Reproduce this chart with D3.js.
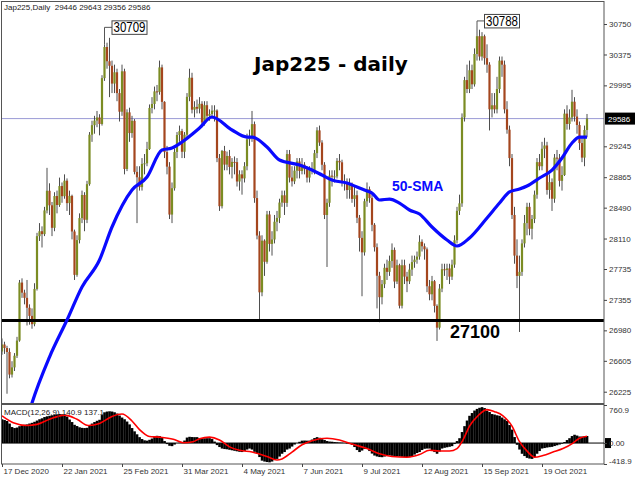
<!DOCTYPE html>
<html><head><meta charset="utf-8">
<script src="https://cdn.jsdelivr.net/npm/d3@7"></script>
<style>
body{margin:0;background:#fff}
svg{display:block}
</style>
</head><body>
<svg id="c" width="640" height="480" style="font-family:'Liberation Sans',Arial,sans-serif"></svg>
<script>
// ---------- DATA ----------
const tickDates = ["17 Dec 2020","22 Jan 2021","25 Feb 2021","31 Mar 2021","4 May 2021","7 Jun 2021","9 Jul 2021","12 Aug 2021","15 Sep 2021","19 Oct 2021"];
const tickIdx = [0,24,48,72,96,120,144,168,192,216];
const priceTicks = [30750,30375,29995,29245,28865,28490,28110,27735,27355,26980,26605,26225];

const opens = [
26720,26806,26763,26714,26436,26524,26668,26854,27568,27444,
27380,27258,27158,27056,27490,28139,28200,28164,28456,28698,
28519,28242,28633,28523,28756,28631,28822,28546,28635,28197,
27663,28091,28362,28646,28341,28779,29388,29505,29562,29600,
29520,30084,30467,30292,30236,30017,30156,29900,29671,30168,
28966,29663,29408,29559,28930,28864,28743,29028,29036,29211,
29717,29766,29921,29914,30216,29792,29174,28995,28405,28729,
29176,29384,29432,29178,29388,29854,30089,29696,29730,29708,
29768,29538,29751,29620,29642,29683,29685,29100,28508,29188,
29020,29126,28991,29053,29050,28812,28900,28850,29000,29331,
29357,29518,28608,28147,27448,28084,27824,28406,28044,28098,
28317,28364,28553,28642,28549,29149,28860,28814,28946,29058,
28941,29019,28963,28860,28958,28948,29161,29441,29291,29018,
28400,28550,28884,28874,28875,29066,29048,28812,28791,28707,
28783,28598,28643,28366,28118,27940,28569,28718,28608,28279,
28003,27652,27388,27548,27750,27700,27833,27970,27581,27782,
27283,27781,27641,27584,27728,27820,27850,27888,28070,28015,
27977,27523,27424,27585,27281,27013,27494,27732,27724,27742,
27641,27789,28089,28451,28543,29600,30060,29950,30181,30008,
30381,30600,30350,30600,30330,30250,29700,29750,29700,29950,
30300,30250,29700,29450,29100,28400,27900,27650,27700,28050,
28300,28500,28230,28350,28650,29050,29000,29215,29255,28708,
28804,28600,29106,29098,28820,28892,29647,29520,29600,29794,
29611,29507,29285,29106,29446];
const highs = [
26880,26840,26790,26760,26600,26700,26900,27600,27620,27480,
27600,27300,27250,27560,28180,28300,28260,28500,28980,28790,
28560,28680,28700,28860,28800,28900,28850,28700,28650,28220,
28150,28420,28700,28680,28820,29420,29560,29620,29680,29640,
30120,30500,30520,30580,30300,30250,30200,29950,30250,30200,
29700,29720,29620,29580,29000,29000,29100,29150,29300,29760,
29850,29980,30000,30300,30250,29800,29250,29050,28800,29220,
29420,29500,29460,29420,29900,30200,30150,29800,29820,29850,
29800,29800,29800,29700,29750,29750,29700,29150,29200,29250,
29180,29200,29100,29120,29100,28950,28950,29050,29400,29450,
29680,29550,28700,28200,28150,28100,28450,28450,28200,28400,
28450,28600,28700,28700,29200,29200,29000,29000,29100,29100,
29100,29050,29000,29000,29050,29200,29480,29500,29320,29050,
28600,28950,28950,28950,29100,29150,29080,28900,28850,28850,
28800,28750,28700,28400,28200,28600,28800,28750,28650,28300,
28050,27700,27600,27800,27850,27900,28050,28000,27850,27800,
27850,27850,27700,27800,27900,27900,27950,28150,28100,28050,
28000,27600,27650,27600,27300,27550,27800,27800,27800,27800,
27850,28150,28500,28650,29650,30100,30250,30300,30250,30450,
30725,30680,30650,30620,30500,30280,29900,29900,30100,30350,
30350,30300,29800,29500,29150,28500,28100,27900,28100,28400,
28550,28550,28400,28700,29100,29150,29300,29350,29300,28900,
28850,29150,29200,29150,29000,29700,29750,29700,29940,29850,
29700,29550,29350,29500,29643];
const lows = [
26680,26690,26200,26390,26400,26480,26640,26840,27380,27300,
27040,27050,27000,27030,27470,28080,28000,28140,28420,28400,
28140,28200,28420,28500,28550,28600,28450,28400,28100,27600,
27640,28050,28300,28200,28300,28760,29300,29400,29480,29380,
29500,30050,30200,29850,29900,29900,29800,29550,29620,28900,
28940,29300,29350,28900,28300,28700,28700,28900,29000,29200,
29650,29700,29800,29880,29700,29100,28900,28350,28300,28700,
29100,29300,29100,29100,29350,29800,29650,29600,29650,29650,
29480,29500,29580,29560,29600,29550,29050,28450,28480,28950,
28950,28900,28850,28900,28750,28700,28650,28800,28950,29250,
29300,28550,28100,27100,27400,27650,27800,27950,27900,28050,
28200,28300,28500,28400,28500,28800,28750,28780,28850,28850,
28900,28900,28800,28800,28900,28900,29100,29250,28950,28350,
27760,28500,28750,28800,28850,28950,28750,28700,28600,28600,
28550,28500,28300,27950,27400,27900,28500,28550,28200,27950,
27250,27080,27300,27500,27600,27650,27750,27500,27550,27250,
27250,27550,27450,27550,27650,27750,27800,27850,27950,27850,
27450,27350,27350,27200,26850,26990,27450,27650,27600,27550,
27600,27750,28050,28400,28500,29550,29900,29900,29950,29980,
30300,30300,30300,30250,30150,29440,29600,29650,29650,29900,
30100,29650,29400,29000,28350,27800,27500,26960,27650,28000,
28150,28150,28100,28300,28600,28950,28950,29100,28650,28600,
28450,28550,28950,28750,28700,28880,29450,29450,29550,29550,
29400,29200,29050,29000,29356];
const closes = [
26806,26763,26714,26436,26524,26668,26854,27568,27444,27380,
27258,27158,27056,27490,28139,28200,28164,28456,28698,28519,
28242,28633,28523,28756,28631,28822,28546,28635,28197,27663,
28091,28362,28646,28341,28779,29388,29505,29562,29600,29520,
30084,30467,30292,30236,30017,30156,29900,29671,30168,28966,
29663,29408,29559,28930,28864,28743,29028,29036,29211,29717,
29766,29921,29914,30216,29792,29174,28995,28405,28729,29176,
29384,29432,29178,29388,29854,30089,29696,29730,29708,29768,
29538,29751,29620,29642,29683,29685,29100,28508,29188,29020,
29126,28991,29053,29050,28812,28900,28850,29000,29331,29357,
29518,28608,28147,27448,28084,27824,28406,28044,28098,28317,
28364,28553,28642,28549,29149,28860,28814,28946,29058,28941,
29019,28963,28860,28958,28948,29161,29441,29291,29018,28400,
28550,28884,28874,28875,29066,29048,28812,28791,28707,28783,
28598,28643,28366,28118,27940,28569,28718,28608,28279,28003,
27652,27388,27548,27750,27700,27833,27970,27581,27782,27283,
27781,27641,27584,27728,27820,27850,27888,28070,28015,27977,
27523,27424,27585,27281,27013,27494,27732,27724,27742,27641,
27789,28089,28451,28543,29600,30060,29950,30181,30008,30381,
30600,30350,30600,30330,30250,29700,29750,29700,29950,30300,
30250,29700,29450,29100,28400,27900,27650,27700,28050,28300,
28500,28230,28350,28650,29050,29000,29215,29255,28708,28804,
28600,29106,29098,28820,28892,29647,29520,29600,29794,29611,
29507,29285,29106,29446,29586];

// 50-SMA (bar index, value)
const smaIdx = [10,12,19,26,32,39,44,52,58,64,68,72,79,84,92,98,100,106,111,119,124,128,132,138,142,146,148,151,155,159,163,167,172,178,182,187,194,199,203,207,210,215,220,224,228,231,234];
const smaVal = [25880,26086,26652,27107,27514,27846,28252,28707,28867,29200,29224,29298,29470,29606,29446,29359,29359,29236,29076,29015,28953,28892,28830,28793,28744,28695,28670,28584,28596,28547,28461,28412,28252,28092,28018,28117,28363,28547,28683,28719,28756,28855,28953,29101,29286,29359,29359];

// MACD main (histogram), one per bar
const macdHist = [
476,460,441,390,320,300,310,337,350,365,
373,390,405,425,450,476,495,520,535,545,
555,565,575,580,575,560,530,470,420,365,
340,315,304,300,305,350,390,420,445,465,
560,615,630,635,630,615,590,550,510,476,
430,373,300,234,175,118,80,55,48,65,
90,120,145,140,100,40,-21,-55,-62,-30,
0,5,10,50,110,125,120,118,118,100,
97,95,97,97,80,30,-41,-80,-110,-120,
-125,-135,-145,-155,-165,-175,-180,-160,-130,-110,
-130,-175,-214,-280,-352,-370,-380,-386,-370,-340,
-317,-270,-214,-180,-130,-110,-70,-30,0,25,
48,50,48,48,70,100,118,105,77,60,
40,30,27,20,15,10,7,0,-10,-20,
-35,-80,-140,-180,-150,-120,-110,-160,-210,-250,
-269,-280,-283,-270,-255,-248,-255,-260,-265,-269,
-275,-280,-283,-283,-260,-230,-200,-180,-140,-115,
-110,-110,-140,-180,-214,-170,-110,-95,-85,-75,
-62,-20,40,97,220,338,450,545,600,650,
683,705,718,700,649,620,580,570,555,545,
510,475,441,360,269,120,-35,-130,-214,-260,
-296,-310,-317,-280,-214,-160,-110,-100,-90,-82,
-76,-60,-45,-30,-14,20,60,97,140,166,
150,131,130,135,140.9];
// MACD signal line
const sigIdx = [0,4.5,10,14,19,25,30,34.5,39,44,48,52,55,59,63,68.5,72.5,76.5,79,83,87,91,95,100,106,110,112,116,120,124,130,135,140,146,151,156,162,167,171,175,179,182,184.4,187,190.4,194,197,200.4,204,207,210.4,213,216.4,220.4,224.4,228.4,231,234];
const sigVal = [545,407,352,373,476,559,476,352,393,532,580,441,269,130,118,77,7,27,87,118,62,-76,-145,-180,-269,-338,-317,-180,-35,48,97,62,-21,-110,-214,-269,-283,-230,-145,-159,-159,-110,62,338,545,669,628,545,338,27,-180,-283,-248,-180,-110,0,97,137.1];

const annPrices = [30709,30788];
const annIdx = [41,190];
const supportLevel = 27100;
const lastPrice = 29586;
const macdMax = 760.9, macdMin = -418.9;

// ---------- DRAW ----------
const svg = d3.select("#c");
const N = closes.length;
const PL = 2, PR = 604, PT = 2, PB = 403, MT = 405, MB = 464;
const x = d3.scaleLinear().domain([0, N-1]).range([2, 587]);
const y = d3.scaleLinear().domain([26086, 31021]).range([PB, PT]);
const ym = d3.scaleLinear().domain([macdMin, macdMax]).range([MB, MT]);

const defs = svg.append("defs");
defs.append("clipPath").attr("id","cm").append("rect").attr("x",PL).attr("y",PT).attr("width",PR-PL).attr("height",PB-PT);
defs.append("clipPath").attr("id","cd").append("rect").attr("x",PL).attr("y",MT).attr("width",PR-PL).attr("height",MB-MT);

const main = svg.append("g").attr("clip-path","url(#cm)");

// current price line
main.append("line").attr("x1",PL).attr("x2",PR).attr("y1",y(lastPrice)).attr("y2",y(lastPrice))
  .attr("stroke","#9a9ad6").attr("stroke-width",1);

// candles
const idx = d3.range(N);
main.append("g").selectAll("line").data(idx).join("line")
  .attr("x1",i=>x(i)).attr("x2",i=>x(i))
  .attr("y1",i=>y(highs[i])).attr("y2",i=>y(lows[i]))
  .attr("stroke","#3a3a3a").attr("stroke-width",0.9);
main.append("g").selectAll("rect").data(idx).join("rect")
  .attr("x",i=>x(i)-1.1).attr("width",2.2)
  .attr("y",i=>y(Math.max(opens[i],closes[i])))
  .attr("height",i=>Math.max(1, Math.abs(y(opens[i])-y(closes[i]))))
  .attr("fill",i=>closes[i]>=opens[i] ? "#7b8c23" : "#a4461e");

// support line
main.append("line").attr("x1",0).attr("x2",PR).attr("y1",y(supportLevel)).attr("y2",y(supportLevel))
  .attr("stroke","#000").attr("stroke-width",3);

// SMA
const smaLine = d3.line().x((d,i)=>x(smaIdx[i])).y((d,i)=>y(smaVal[i])).curve(d3.curveMonotoneX);
main.append("path").attr("d", smaLine(smaIdx)).attr("fill","none").attr("stroke","#0a0aff").attr("stroke-width",3.2);

// annotations
annPrices.forEach((p,k)=>{
  const cx = x(annIdx[k]);
  const yy = y(p);
  const g = svg.append("g");
  g.append("path").attr("d",`M${cx+7.5},${yy}H${cx}V${y(highs[annIdx[k]])}`)
    .attr("fill","none").attr("stroke","#555").attr("stroke-width",1);
  g.append("rect").attr("x",cx+7.5).attr("y",yy-6.5).attr("width",35).attr("height",13.5)
    .attr("fill","#fff").attr("stroke","#444").attr("stroke-width",1);
  g.append("text").attr("x",cx+9).attr("y",yy+5)
    .style("font-family",'"Liberation Sans Narrow","Arial Narrow","Liberation Sans",sans-serif')
    .style("font-size","14px").attr("textLength",32).attr("lengthAdjust","spacingAndGlyphs")
    .attr("fill","#000").text(p);
});

// frames
svg.append("rect").attr("x",1.5).attr("y",1.5).attr("width",PR-1.5).attr("height",PB-1).attr("fill","none").attr("stroke","#555");
svg.append("rect").attr("x",1.5).attr("y",MT-0.5).attr("width",PR-1.5).attr("height",MB-MT+0.5).attr("fill","none").attr("stroke","#555");

// price axis
const ax = svg.append("g").attr("transform",`translate(${PR},0)`)
  .call(d3.axisRight(y).tickValues(priceTicks).tickSize(3).tickPadding(2).tickFormat(d3.format("d")));
ax.select(".domain").remove();
ax.selectAll("line").attr("stroke","#444");
ax.selectAll("text").style("font-size","8px").style("font-family","'Liberation Sans',Arial,sans-serif").attr("fill","#333");

// current price label
svg.append("rect").attr("x",PR+1).attr("y",y(lastPrice)-6).attr("width",30).attr("height",12).attr("fill","#000");
svg.append("text").attr("x",PR+4).attr("y",y(lastPrice)+3).style("font-size","8px").attr("fill","#fff").text(lastPrice);

// MACD panel
const mg = svg.append("g").attr("clip-path","url(#cd)");
mg.append("g").selectAll("rect").data(idx).join("rect")
  .attr("x",i=>x(i)-1.25).attr("width",2.6)
  .attr("y",i=>Math.min(ym(0), ym(macdHist[i])))
  .attr("height",i=>Math.abs(ym(macdHist[i])-ym(0)))
  .attr("fill","#000");
mg.append("line").attr("x1",PL).attr("x2",PR).attr("y1",ym(0)).attr("y2",ym(0)).attr("stroke","#000").attr("stroke-width",1);
const sigLine = d3.line().x((d,i)=>x(sigIdx[i])).y((d,i)=>ym(sigVal[i])).curve(d3.curveMonotoneX);
mg.append("path").attr("d",sigLine(sigIdx)).attr("fill","none").attr("stroke","#ff0000").attr("stroke-width",1.6);

svg.append("rect").attr("x",PR+1).attr("y",ym(0)-5).attr("width",6).attr("height",10).attr("fill","#000");
const max = svg.append("g").attr("transform",`translate(${PR},0)`)
  .call(d3.axisRight(ym).tickValues([macdMax,0,macdMin]).tickSize(3).tickPadding(2)
    .tickFormat(d=> d===0 ? "0.00" : d.toFixed(1)));
max.select(".domain").remove();
max.selectAll("line").attr("stroke","#444");
max.selectAll("text").style("font-size","8px").attr("fill","#333")
  .attr("dy",(d)=> d===macdMax ? "0.9em" : d===macdMin ? "-0.1em" : "0.32em");

// date axis
const dx = svg.append("g").attr("transform",`translate(0,${MB})`)
  .call(d3.axisBottom(x).tickValues(tickIdx).tickSize(3).tickFormat((d,i)=>tickDates[i]));
dx.select(".domain").remove();
dx.selectAll("line").attr("stroke","#444");
dx.selectAll("text").style("font-size","8px").style("font-family","'Liberation Sans',Arial,sans-serif").attr("fill","#333").attr("text-anchor","start")
  .attr("x",1).attr("y",4).attr("dy","0.71em");

// texts
svg.append("text").attr("x",4).attr("y",10).style("font-size","8px").attr("fill","#222")
  .style("white-space","pre")
  .text(`Jap225,Daily  ${opens[N-1]} ${highs[N-1]} ${lows[N-1]} ${closes[N-1]}`);
svg.append("text").attr("x",4).attr("y",415).style("font-size","8px").attr("fill","#222")
  .text(`MACD(12,26,9) ${macdHist[N-1].toFixed(1)} ${sigVal[sigVal.length-1].toFixed(1)}`);
svg.append("text").attr("x",254).attr("y",71)
  .style("font-family","'DejaVu Sans',sans-serif").style("font-weight","bold").style("font-size","20px")
  .attr("fill","#000").text("Jap225 - daily");
svg.append("text").attr("x",392).attr("y",191).style("font-weight","bold").style("font-size","14px")
  .attr("fill","#0a0aff").text("50-SMA");
svg.append("text").attr("x",450).attr("y",338).style("font-weight","bold").style("font-size","18px")
  .attr("fill","#000").text(supportLevel);
</script>
</body></html>
